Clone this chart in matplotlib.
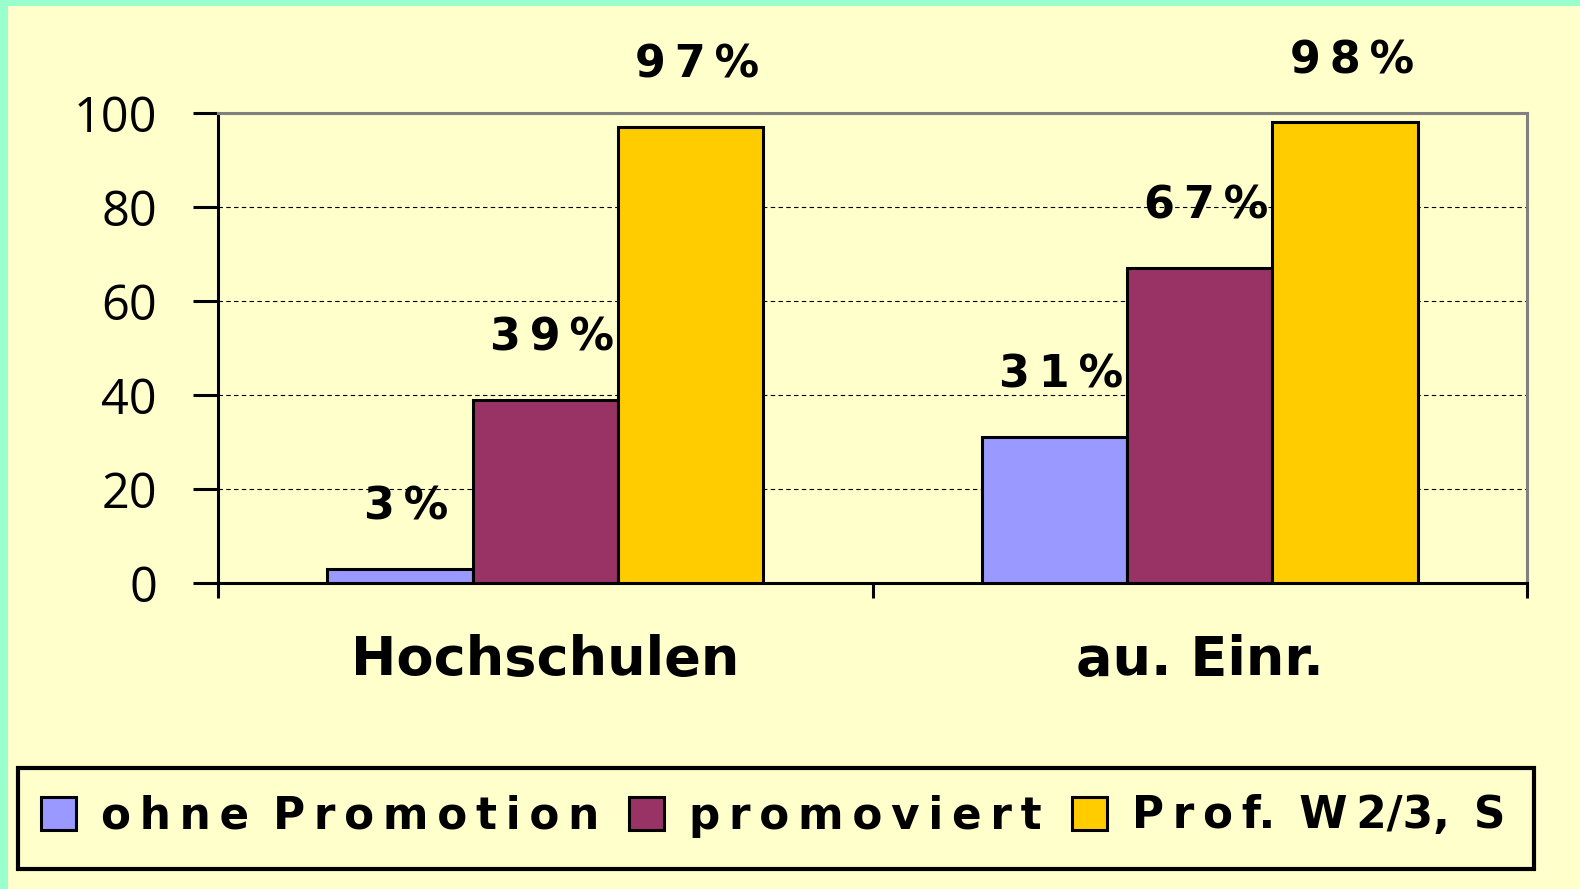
import matplotlib.pyplot as plt
import matplotlib.patches as mpatches
import numpy as np

categories = ["Hochschulen", "au. Einr."]
series = ["ohne Promotion", "promoviert", "Prof. W2/3, S"]
values = [[3, 31], [39, 67], [97, 98]]
colors = ["#9999FF", "#993366", "#FFCC00"]
yticks = [0, 20, 40, 60, 80, 100]

bg = "#FFFFCC"
THIN = "\u2009"


def spaced(s):
    # wide letter spacing like the original rendering (not around punctuation)
    out = s[0]
    for a, b in zip(s, s[1:]):
        if (a.isalnum() and b.isalnum()) or b == " ":
            out += THIN
        out += b
    return out


fig = plt.figure(figsize=(15.8, 8.89), dpi=100)
fig.patch.set_facecolor("#99FFCC")
fig.patches.append(mpatches.Rectangle((8 / 1580, 0), 1, 1 - 6 / 889,
                                      transform=fig.transFigure,
                                      facecolor=bg, edgecolor="none", zorder=-5))

ax = fig.add_axes([218 / 1580, 1 - 583 / 889, (1527 - 218) / 1580, 470 / 889])
ax.set_facecolor(bg)

bold = {"family": ["DejaVu Sans"], "weight": "bold"}

w = 1 / 4.5
x = np.arange(len(categories))
for i, (name, vals, c) in enumerate(zip(series, values, colors)):
    pos = x + (i - 1) * w
    ax.bar(pos, vals, width=w, color=c, edgecolor="black", linewidth=2.2,
           label=spaced(name), zorder=3)
    for p, v in zip(pos, vals):
        ax.text(p + 0.01, v + 10.5, THIN.join(f"{v}%"), ha="center", va="baseline",
                fontsize=32, **bold)

ax.set_xlim(-0.5, 1.5)
ax.set_ylim(0, 100)
ax.set_yticks(yticks)
ax.set_yticklabels([str(t) for t in yticks], fontsize=35, family="Open Sans")
ax.tick_params(axis="y", direction="out", length=18, width=2.2, pad=26)
ax.set_xticks([-0.5, 0.5, 1.5])
ax.set_xticklabels([])
ax.tick_params(axis="x", direction="out", length=11, width=2.2)
for xc, cat in zip(x, categories):
    ax.text(xc, -19.6, cat, ha="center", va="baseline", fontsize=39, **bold)

ax.yaxis.grid(True, linestyle=(0, (4, 3)), color="black", linewidth=0.8, zorder=1)
ax.set_axisbelow(True)
for s in ["left", "bottom"]:
    ax.spines[s].set_linewidth(2.2)
    ax.spines[s].set_color("black")
for s in ["top", "right"]:
    ax.spines[s].set_linewidth(2.2)
    ax.spines[s].set_color("#808080")

# legend box drawn separately so its size matches the original
fig.patches.append(mpatches.Rectangle((18 / 1580, 1 - 869 / 889), 1516 / 1580, 101 / 889,
                                      transform=fig.transFigure, facecolor=bg,
                                      edgecolor="black", linewidth=3, zorder=1))
leg = fig.legend(loc="center", bbox_to_anchor=(773 / 1580, 1 - 816 / 889),
                 ncol=3, frameon=False,
                 prop={"family": ["DejaVu Sans"], "weight": "bold", "size": 31.5},
                 handlelength=0.8, handleheight=0.8, handletextpad=0.57,
                 borderpad=0, columnspacing=0.69)
leg.set_zorder(2)
for h in leg.legend_handles:
    h.set_linewidth(2.2)

fig.savefig("out.png", dpi=100, facecolor=fig.get_facecolor())
